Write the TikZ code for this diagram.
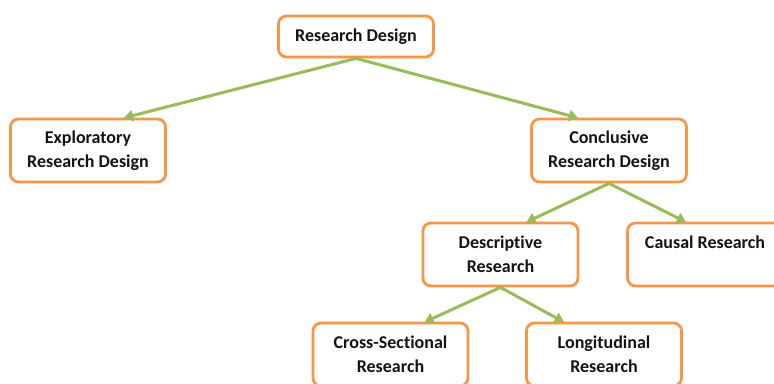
\documentclass[tikz,border=0pt]{standalone}
\usepackage{fontspec}
\setmainfont[Ligatures=NoCommon]{Carlito}
\usetikzlibrary{arrows.meta}
\definecolor{boxorange}{RGB}{247,150,70}
\definecolor{linegreen}{RGB}{155,187,89}
\definecolor{txt}{RGB}{20,20,20}
\tikzset{
  box/.style={draw=boxorange, line width=2.8pt, rounded corners=8pt, fill=white,
    minimum width=155pt, minimum height=63pt, align=center, inner sep=0pt,
    font=\fontsize{18}{24}\selectfont\bfseries, text=txt},
  conn/.style={draw=linegreen, line width=3pt,
    -{Triangle[length=9pt,width=11pt]}, shorten >=-1pt}
}
\begin{document}
\begin{tikzpicture}[x=1pt,y=-1pt]
\useasboundingbox (0,0) rectangle (774,383);
\clip (0,0) rectangle (774,383);
\fill[white] (0,0) rectangle (774,383);
\node[box, minimum height=41pt] (rd) at (356,36.5) {Research Design};
\node[box] (ex) at (88,150.5) {Exploratory\\Research Design};
\node[box] (co) at (609,150.5) {Conclusive\\Research Design};
\node[box] (de) at (500.5,254.5) {Descriptive\\Research};
\node[box] (ca) at (705,254.5) {Causal Research\\\mbox{}};
\node[box] (cs) at (390.5,354.5) {Cross-Sectional\\Research};
\node[box] (lo) at (604,354.5) {Longitudinal\\Research};
\draw[conn] (rd.south) -- ([xshift=37pt]ex.north);
\draw[conn] (rd.south) -- ([xshift=-32pt]co.north);
\draw[conn] (co.south) -- ([xshift=27pt]de.north);
\draw[conn] (co.south) -- ([xshift=-20pt]ca.north);
\draw[conn] (de.south) -- ([xshift=35pt]cs.north);
\draw[conn] (de.south) -- ([xshift=-41pt]lo.north);
\end{tikzpicture}
\end{document}
